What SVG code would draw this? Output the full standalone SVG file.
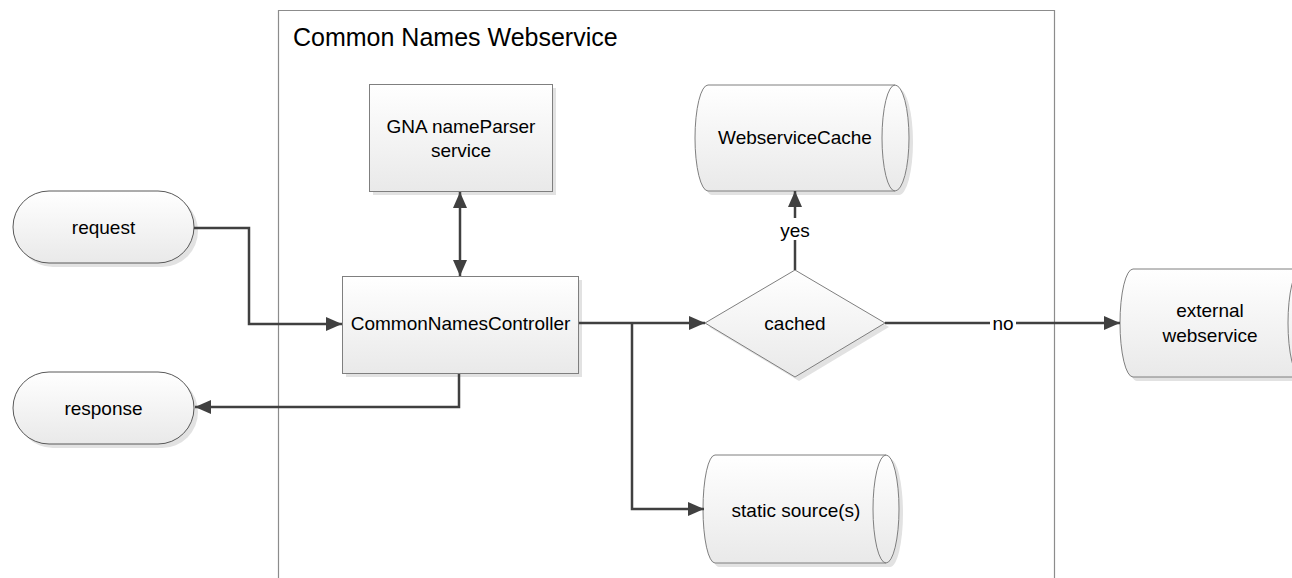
<svg xmlns="http://www.w3.org/2000/svg" width="1292" height="578" viewBox="0 0 1292 578">
  <defs>
    <linearGradient id="fillGrad" x1="0" y1="0" x2="0" y2="1">
      <stop offset="0" stop-color="#ffffff"/>
      <stop offset="1" stop-color="#e9e9e9"/>
    </linearGradient>
    <marker id="arrow" viewBox="0 0 16 14" refX="16" refY="7" markerWidth="16" markerHeight="14" markerUnits="userSpaceOnUse" orient="auto-start-reverse">
      <path d="M0,0 L16,7 L0,14 Z" fill="#404040"/>
    </marker>
    <style>
      .shape { fill: url(#fillGrad); stroke: #7f7f7f; stroke-width: 1; }
      .pill { fill: url(#fillGrad); stroke: #595959; stroke-width: 1; }
      .shadow { fill: #e2e2e2; stroke: none; }
      .label { font-family: "Liberation Sans", Arial, sans-serif; font-size: 19px; fill: #000; text-anchor: middle; }
      .title { font-family: "Liberation Sans", Arial, sans-serif; font-size: 25px; fill: #000; }
      .conn { fill: none; stroke: #404040; stroke-width: 2.5; }
      .container { fill: #ffffff; stroke: #8c8c8c; stroke-width: 1.2; }
    </style>
  </defs>

  <rect width="1292" height="578" fill="#ffffff"/>

  <!-- service boundary -->
  <g id="container">
    <path class="container" d="M278.5,590 V10.5 H1054.5 V590"/>
    <text class="title" x="293" y="46">Common Names Webservice</text>
  </g>

  <!-- nodes -->
  <g id="request">
    <rect class="shadow" x="17" y="195" width="181" height="72" rx="36"/>
    <rect class="pill" x="13" y="191" width="181" height="72" rx="36"/>
    <text class="label" x="103.5" y="234">request</text>
  </g>

  <g id="response">
    <rect class="shadow" x="17" y="376" width="181" height="72" rx="36"/>
    <rect class="pill" x="13" y="372" width="181" height="72" rx="36"/>
    <text class="label" x="103.5" y="415">response</text>
  </g>

  <g id="gna">
    <rect class="shadow" x="373" y="88" width="183" height="107"/>
    <rect class="shape" x="369.5" y="84.5" width="183" height="107"/>
    <text class="label" x="461" y="133">GNA nameParser</text>
    <text class="label" x="461" y="157">service</text>
  </g>

  <g id="controller">
    <rect class="shadow" x="346" y="280" width="236" height="97"/>
    <rect class="shape" x="342.5" y="276.5" width="236" height="97"/>
    <text class="label" x="460.5" y="330">CommonNamesController</text>
  </g>

  <g id="cached">
    <polygon class="shadow" points="709,327 799,274 889,327 799,381"/>
    <polygon class="shape" points="705,323 795,270 885,323 795,377"/>
    <text class="label" x="795" y="330">cached</text>
  </g>

  <g id="webservice-cache">
    <path class="shadow" transform="translate(4,4)" d="M708,85 H895 A14,53 0 0 1 895,191 H708 A13,53 0 0 1 708,85 Z"/>
    <path class="shape" d="M708,85 H895 A14,53 0 0 1 895,191 H708 A13,53 0 0 1 708,85 Z"/>
    <path class="shape" style="fill:none" d="M895,85 A13,53 0 0 0 895,191"/>
    <text class="label" x="795" y="144">WebserviceCache</text>
  </g>

  <g id="static-sources">
    <path class="shadow" transform="translate(4,4)" d="M715,455 H886 A13,54 0 0 1 886,563 H715 A12,54 0 0 1 715,455 Z"/>
    <path class="shape" d="M715,455 H886 A13,54 0 0 1 886,563 H715 A12,54 0 0 1 715,455 Z"/>
    <path class="shape" style="fill:none" d="M886,455 A13,54 0 0 0 886,563"/>
    <text class="label" x="796" y="517">static source(s)</text>
  </g>

  <g id="external-webservice">
    <path class="shadow" transform="translate(4,4)" d="M1133,269 H1301 A13,54 0 0 1 1301,377 H1133 A13,54 0 0 1 1133,269 Z"/>
    <path class="shape" d="M1133,269 H1301 A13,54 0 0 1 1301,377 H1133 A13,54 0 0 1 1133,269 Z"/>
    <path class="shape" style="fill:none" d="M1301,269 A13,54 0 0 0 1301,377"/>
    <text class="label" x="1210" y="317">external</text>
    <text class="label" x="1210" y="342">webservice</text>
  </g>

  <!-- connectors -->
  <g id="connectors">
    <path class="conn" d="M194,228 H249 V324 H342" marker-end="url(#arrow)"/>
    <path class="conn" d="M459,374 V407 H195" marker-end="url(#arrow)"/>
    <path class="conn" d="M460,192 V276" marker-start="url(#arrow)" marker-end="url(#arrow)"/>
    <path class="conn" d="M579,323 H705" marker-end="url(#arrow)"/>
    <path class="conn" d="M632,323 V509 H704" marker-end="url(#arrow)"/>
    <path class="conn" d="M795,270 V191" marker-end="url(#arrow)"/>
    <path class="conn" d="M885,323 H1120" marker-end="url(#arrow)"/>
    <rect x="783" y="218" width="24" height="22" fill="#ffffff"/>
    <text class="label" x="795" y="237">yes</text>
    <rect x="990" y="313" width="26" height="19" fill="#ffffff"/>
    <text class="label" x="1003" y="330">no</text>
  </g>
</svg>
